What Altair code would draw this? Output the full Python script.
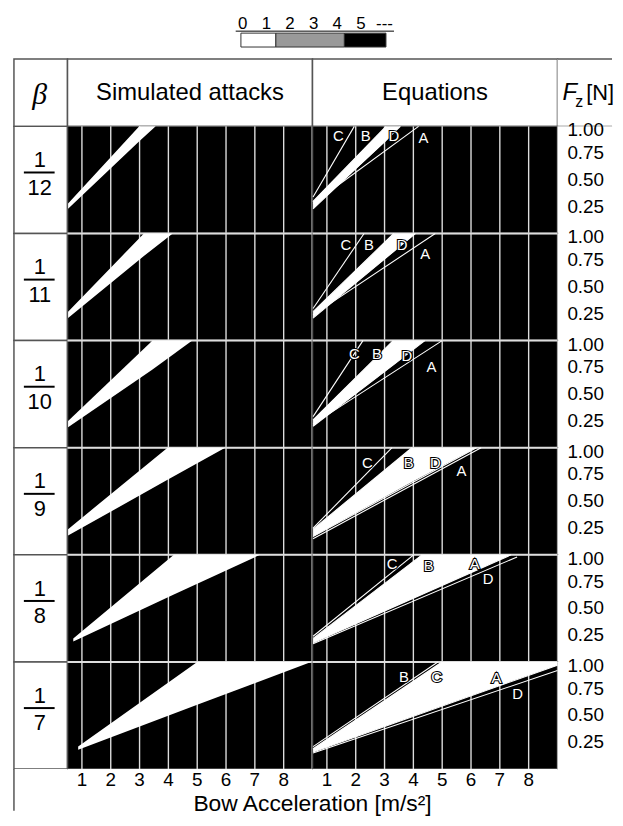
import altair as alt
import pandas as pd

FONT = "Liberation Sans"
GRAY = "#555555"
GRID = "#dddddd"

# ---------------- data ----------------
beta_num = ["1", "1", "1", "1", "1", "1"]
beta_den = ["12", "11", "10", "9", "8", "7"]
x_ticks = [1, 2, 3, 4, 5, 6, 7, 8]
fz_ticks = [1.00, 0.75, 0.50, 0.25]
fz_labels = ["1.00", "0.75", "0.50", "0.25"]

legend_labels = ["0", "1", "2", "3", "4", "5", "---"]
legend_label_pos = [0, 1, 2, 3, 4, 5, 6.0]
legend_colors = ["white", "#999999", "black"]
legend_start = [-0.08, 1.40, 4.30]
legend_end = [1.40, 4.30, 6.06]

# simulated attacks: white region (x, lower F, upper F)
sim_x = [[0.52, 2.99, 3.56], [0.52, 3.15, 4.15], [0.52, 3.45, 4.83],
         [0.52, 3.97, 5.97], [0.70, 4.19, 7.18], [0.87, 5.00, 8.95]]
sim_lo = [[0.23, 0.86, 1.0], [0.21, 0.79, 1.0], [0.19, 0.73, 1.0],
          [0.18, 0.70, 1.0], [0.19, 0.63, 1.0], [0.18, 0.60, 1.0]]
sim_hi = [[0.28, 1.0, 1.0], [0.27, 1.0, 1.0], [0.25, 1.0, 1.0],
          [0.24, 1.0, 1.0], [0.22, 1.0, 1.0], [0.21, 1.0, 1.0]]

# equations: white region
eq_x = [[0.52, 3.05, 3.55], [0.52, 3.32, 4.07], [0.52, 3.30, 4.40],
        [0.52, 3.95, 6.19], [0.52, 4.30, 7.39], [0.52, 4.99, 9.00]]
eq_lo = [[0.23, 0.86, 1.0], [0.21, 0.83, 1.0], [0.20, 0.77, 1.0],
         [0.17, 0.68, 1.0], [0.18, 0.63, 1.0], [0.16, 0.59, 0.97]]
eq_hi = [[0.30, 1.0, 1.0], [0.27, 1.0, 1.0], [0.26, 1.0, 1.0],
         [0.24, 1.0, 1.0], [0.22, 1.0, 1.0], [0.19, 1.0, 1.0]]

# equation lines per row: [x0, F0, x1, F1]
line_names = ["A", "B", "C", "D"]
eq_lines = {
    "A": [[0.52, 0.28, 4.18, 1.0], [0.52, 0.24, 4.76, 1.0], [0.52, 0.22, 5.00, 1.0],
          [0.52, 0.15, 6.35, 1.0], [0.52, 0.18, 7.39, 1.0], [0.52, 0.16, 9.00, 0.97]],
    "B": [[0.52, 0.30, 3.05, 1.0], [0.52, 0.27, 3.32, 1.0], [0.52, 0.26, 3.30, 1.0],
          [0.52, 0.24, 3.95, 1.0], [0.52, 0.22, 4.30, 1.0], [0.52, 0.19, 4.99, 1.0]],
    "C": [[0.52, 0.34, 1.95, 1.0], [0.52, 0.30, 2.29, 1.0], [0.52, 0.29, 2.25, 1.0],
          [0.52, 0.25, 3.26, 1.0], [0.52, 0.24, 4.01, 1.0], [0.52, 0.21, 4.85, 1.0]],
    "D": [[0.52, 0.23, 3.55, 1.0], [0.52, 0.21, 4.07, 1.0], [0.52, 0.20, 4.40, 1.0],
          [0.52, 0.17, 6.19, 1.0], [0.52, 0.17, 7.60, 0.98], [0.52, 0.15, 9.00, 0.92]],
}
# label positions (x, F) per row
eq_label_x = {"A": [4.35, 4.41, 4.63, 5.67, 6.13, 6.88],
              "B": [2.35, 2.46, 2.74, 3.84, 4.53, 3.67],
              "C": [1.40, 1.66, 1.95, 2.40, 3.26, 4.81],
              "D": [3.32, 3.61, 3.77, 4.76, 6.59, 7.62]}
eq_label_f = {"A": [0.89, 0.81, 0.75, 0.78, 0.91, 0.85],
              "B": [0.91, 0.89, 0.87, 0.86, 0.90, 0.86],
              "C": [0.91, 0.89, 0.87, 0.86, 0.91, 0.86],
              "D": [0.91, 0.89, 0.86, 0.86, 0.77, 0.70]}

col_headers = ["Simulated attacks", "Equations"]
x_title = "Bow Acceleration [m/s\u00b2]"

# ---------------- layout ----------------
PW, PH = 247, 108
BW = 54
FW = 55
HH = 68
FH = 42

XS = alt.Scale(domain=[0.5, 9.0], nice=False, zero=False)
YS = alt.Scale(domain=[0.0, 1.0], nice=False, zero=False)
WHITE_VIEW = alt.ViewBackground(fill="white", stroke="transparent")
CELL_VIEW = alt.ViewBackground(fill="white", stroke=GRAY, strokeWidth=1.5)
ONE = pd.DataFrame({"a": [0]})


def xq(field="x"):
    return alt.X(f"{field}:Q", scale=XS, axis=None)


def yq(field):
    return alt.Y(f"{field}:Q", scale=YS, axis=None)


def grid_layer():
    return alt.Chart(pd.DataFrame({"x": x_ticks})).mark_rule(
        color=GRID, strokeWidth=1.4).encode(x=xq())


def wedge_layer(xs, lo, hi):
    df = pd.DataFrame({"x": xs, "lo": lo, "hi": hi})
    return alt.Chart(df).mark_area(color="white", opacity=1).encode(
        x=xq(), y=yq("lo"), y2=alt.Y2("hi:Q"))


def panel(kind, r):
    layers = [grid_layer()]
    if r > 0:
        layers.append(alt.Chart(ONE).mark_rule(
            color=GRID, strokeWidth=2).encode(y=alt.value(0)))
    if kind == "sim":
        layers.append(alt.Chart(ONE).mark_rule(
            color=GRID, strokeWidth=2).encode(x=alt.value(PW)))
        layers.append(wedge_layer(sim_x[r], sim_lo[r], sim_hi[r]))
    else:
        layers.append(wedge_layer(eq_x[r], eq_lo[r], eq_hi[r]))
        recs = []
        for nm in line_names:
            x0, f0, x1, f1 = eq_lines[nm][r]
            recs.append({"name": nm, "x": x0, "f": f0})
            recs.append({"name": nm, "x": x1, "f": f1})
        layers.append(alt.Chart(pd.DataFrame(recs)).mark_line(
            color="white", strokeWidth=1.1).encode(
            x=xq(), y=yq("f"), detail="name:N"))
        lab = alt.Chart(pd.DataFrame({
            "name": line_names,
            "x": [eq_label_x[n][r] for n in line_names],
            "f": [eq_label_f[n][r] for n in line_names]}))
        halo = lab.mark_text(fontSize=15, font=FONT, color="black", stroke="black",
                             strokeWidth=2.2, baseline="middle").encode(
            x=xq(), y=yq("f"), text="name:N")
        txt = lab.mark_text(fontSize=15, font=FONT, color="white",
                            baseline="middle").encode(
            x=xq(), y=yq("f"), text="name:N")
        layers += [halo, txt]
    return alt.layer(*layers).properties(
        width=PW, height=PH,
        view=alt.ViewBackground(fill="black", stroke=GRAY, strokeWidth=1.5))


def beta_cell(r):
    df = pd.DataFrame({"num": [beta_num[r]], "den": [beta_den[r]]})
    base = alt.Chart(df)
    num = base.mark_text(fontSize=22, font=FONT, baseline="alphabetic").encode(
        text="num:N", x=alt.value(26), y=alt.value(41))
    bar = base.mark_rule(color="black", strokeWidth=2).encode(
        x=alt.value(10), x2=alt.value(41), y=alt.value(46.5))
    den = base.mark_text(fontSize=22, font=FONT, baseline="alphabetic").encode(
        text="den:N", x=alt.value(26), y=alt.value(69))
    return alt.layer(num, bar, den).properties(width=BW, height=PH, view=CELL_VIEW)


def fz_cell():
    df = pd.DataFrame({"v": fz_ticks, "label": fz_labels})
    base = alt.Chart(df)
    top = base.transform_filter("datum.v >= 1").mark_text(
        fontSize=19, font=FONT, align="left", baseline="middle", dy=4).encode(
        x=alt.value(10), y=yq("v"), text="label:N")
    rest = base.transform_filter("datum.v < 1").mark_text(
        fontSize=19, font=FONT, align="left", baseline="middle").encode(
        x=alt.value(10), y=yq("v"), text="label:N")
    return alt.layer(top, rest).properties(width=FW, height=PH, view=WHITE_VIEW)


def legend_layers():
    # legend drawn above the "Simulated attacks" header cell
    LS = alt.Scale(domain=[-7.42, 2.95], nice=False, zero=False)
    seg = pd.DataFrame({"c": legend_colors, "s": legend_start, "e": legend_end})
    rect = alt.Chart(seg).mark_rect(stroke="#333333", strokeWidth=1).encode(
        x=alt.X("s:Q", scale=LS, axis=None), x2="e:Q",
        y=alt.value(-26), y2=alt.value(-12),
        color=alt.Color("c:N", scale=None, legend=None))
    labs = pd.DataFrame({"p": legend_label_pos, "t": legend_labels})
    txt = alt.Chart(labs).mark_text(fontSize=17, font=FONT, baseline="alphabetic").encode(
        x=alt.X("p:Q", scale=LS, axis=None), y=alt.value(-30), text="t:N")
    und = alt.Chart(pd.DataFrame({"s": [-0.3], "e": [6.4]})).mark_rule(
        color="black", strokeWidth=1).encode(
        x=alt.X("s:Q", scale=LS, axis=None), x2="e:Q", y=alt.value(-28))
    return [rect, txt, und]


def header_cells():
    beta = alt.Chart(pd.DataFrame({"t": ["\u03b2"]})).mark_text(
        fontSize=30, font="Liberation Serif", fontStyle="italic",
        baseline="middle").encode(text="t:N", x=alt.value(26), y=alt.value(HH / 2 + 2)
    ).properties(width=BW, height=HH, view=CELL_VIEW)
    cells = [beta]
    for i, h in enumerate(col_headers):
        t = alt.Chart(pd.DataFrame({"t": [h]})).mark_text(
            fontSize=24, font=FONT, baseline="middle").encode(
            text="t:N", x=alt.value(PW / 2), y=alt.value(HH / 2))
        layers = [t] + (legend_layers() if i == 0 else [])
        cells.append(alt.layer(*layers).properties(width=PW, height=HH, view=CELL_VIEW))
    fz_f = alt.Chart(pd.DataFrame({"t": ["F"]})).mark_text(
        fontSize=24, font=FONT, fontStyle="italic", align="left",
        baseline="middle").encode(text="t:N", x=alt.value(5), y=alt.value(HH / 2))
    fz_z = alt.Chart(pd.DataFrame({"t": ["z"]})).mark_text(
        fontSize=16, font=FONT, align="left", baseline="middle").encode(
        text="t:N", x=alt.value(18), y=alt.value(HH / 2 + 9))
    fz_n = alt.Chart(pd.DataFrame({"t": ["[N]"]})).mark_text(
        fontSize=22, font=FONT, align="left", baseline="middle").encode(
        text="t:N", x=alt.value(29), y=alt.value(HH / 2))
    top = alt.Chart(ONE).mark_rule(color=GRAY, strokeWidth=1.5).encode(
        x=alt.value(0), x2=alt.value(FW), y=alt.value(0))
    bot = alt.Chart(ONE).mark_rule(color=GRAY, strokeWidth=1.5).encode(
        x=alt.value(0), x2=alt.value(FW), y=alt.value(HH))
    cells.append(alt.layer(fz_f, fz_z, fz_n, top, bot).properties(
        width=FW, height=HH, view=WHITE_VIEW))
    return cells


def footer_cells():
    left = alt.Chart(ONE).mark_rule(color=GRAY, strokeWidth=1.5).encode(
        x=alt.value(0), y=alt.value(0), y2=alt.value(FH)).properties(
        width=BW, height=FH, view=WHITE_VIEW)
    ticks = pd.DataFrame({"x": x_ticks, "t": [str(v) for v in x_ticks]})
    sim_t = alt.Chart(ticks).mark_text(fontSize=19, font=FONT, baseline="middle").encode(
        x=xq(), y=alt.value(11), text="t:N").properties(
        width=PW, height=FH, view=WHITE_VIEW)
    eq_t = alt.Chart(ticks).mark_text(fontSize=19, font=FONT, baseline="middle").encode(
        x=xq(), y=alt.value(11), text="t:N")
    title = alt.Chart(pd.DataFrame({"t": [x_title]})).mark_text(
        fontSize=23, font=FONT, baseline="middle").encode(
        x=alt.value(0), y=alt.value(35), text="t:N")
    eq_c = alt.layer(eq_t, title).properties(width=PW, height=FH, view=WHITE_VIEW)
    right = alt.Chart(ONE).mark_rule(color="white", strokeWidth=0).encode(
        x=alt.value(0)).properties(width=FW, height=FH, view=WHITE_VIEW)
    return [left, sim_t, eq_c, right]


cells = header_cells()
for r in range(6):
    cells += [beta_cell(r), panel("sim", r), panel("eq", r), fz_cell()]
cells += footer_cells()

chart = alt.concat(
    *cells, columns=4, spacing=0, bounds="flush", align="each"
).properties(
    padding={"left": 4, "top": 3, "right": 0, "bottom": 0},
    background="white",
).configure_view(stroke=GRAY, strokeWidth=1.5).configure_concat(spacing=0)

chart.save("out.html", embed_options={"renderer": "svg", "actions": False})
